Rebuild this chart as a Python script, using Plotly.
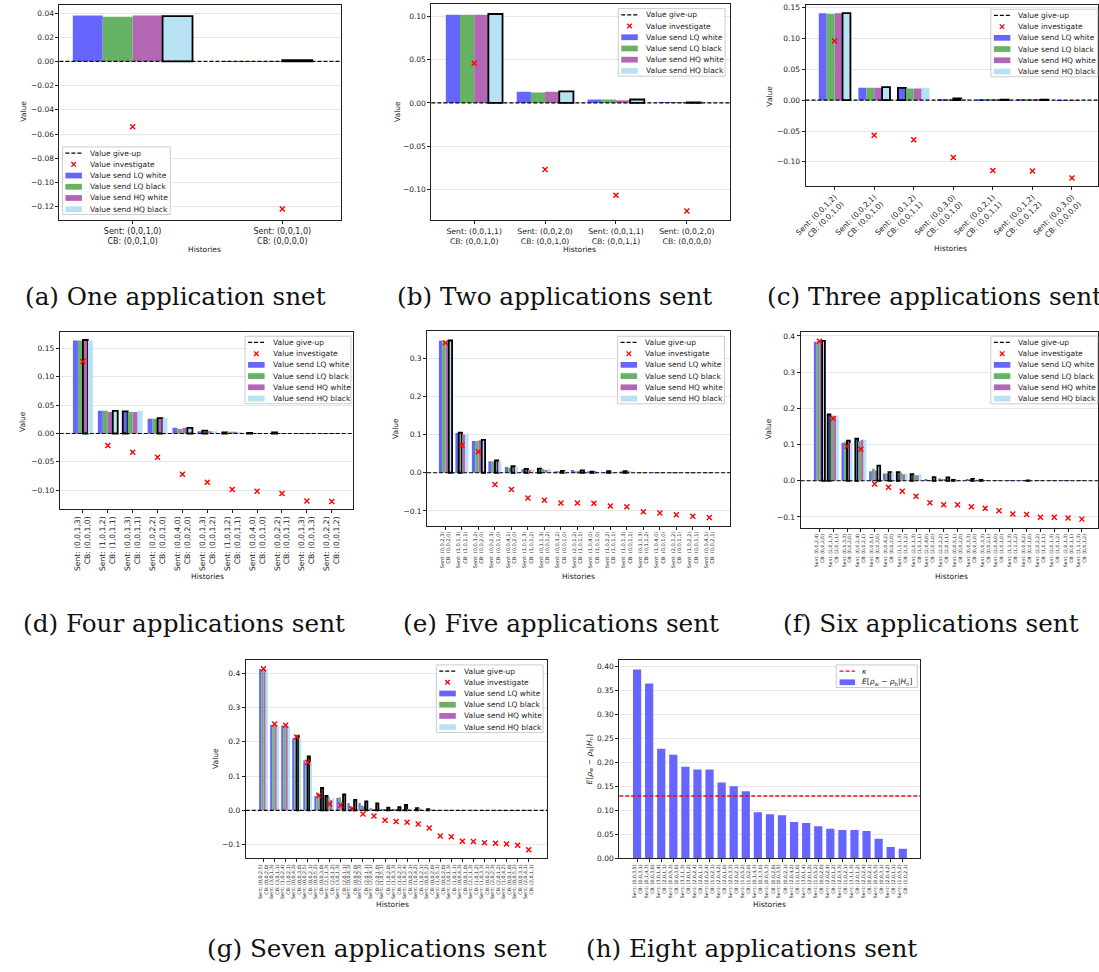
import plotly.graph_objects as go

W, H = 1099, 972

# ---------------- data ----------------
GIVE_UP = 0.0
KAPPA = 0.13

# (a) one application
a_sent = ["(0,0,1,0)", "(0,0,1,0)"]
a_cb = ["(0,0,1,0)", "(0,0,0,0)"]
a_lq_white = [0.0380, 0.0003]
a_lq_black = [0.0370, 0.0003]
a_hq_white = [0.0380, 0.0010]
a_hq_black = [0.0375, 0.0002]
a_investigate = [-0.054, -0.122]
a_best = [3, 2]

# (b) two applications
b_sent = ["(0,0,1,1)", "(0,0,2,0)", "(0,0,1,1)", "(0,0,2,0)"]
b_cb = ["(0,0,1,0)", "(0,0,1,0)", "(0,0,1,1)", "(0,0,0,0)"]
b_lq_white = [0.102, 0.013, 0.004, 0.0003]
b_lq_black = [0.102, 0.012, 0.004, 0.0003]
b_hq_white = [0.102, 0.013, 0.003, 0.0006]
b_hq_black = [0.103, 0.0135, 0.004, 0.0003]
b_investigate = [0.046, -0.077, -0.107, -0.125]
b_best = [3, 3, 3, 2]

# (c) three applications
c_sent = ["(0,0,1,2)", "(0,0,2,1)", "(0,0,1,2)", "(0,0,3,0)", "(0,0,2,1)", "(0,0,1,2)", "(0,0,3,0)"]
c_cb = ["(0,0,1,0)", "(0,0,1,0)", "(0,0,1,1)", "(0,0,1,0)", "(0,0,1,1)", "(0,0,1,2)", "(0,0,0,0)"]
c_lq_white = [0.141, 0.020, 0.020, 0.002, 0.0005, 0.0005, 0.0003]
c_lq_black = [0.140, 0.020, 0.019, 0.002, 0.0005, 0.0005, 0.0003]
c_hq_white = [0.141, 0.020, 0.019, 0.003, 0.0005, 0.0005, 0.0003]
c_hq_black = [0.141, 0.021, 0.020, 0.002, 0.0010, 0.0010, 0.0003]
c_investigate = [0.096, -0.057, -0.064, -0.093, -0.114, -0.115, -0.126]
c_best = [3, 3, 0, 2, 3, 3, -1]

# (d) four applications
d_sent = ["(0,0,1,3)", "(1,0,1,2)", "(0,0,1,3)", "(0,0,2,2)", "(0,0,4,0)", "(0,0,1,3)",
          "(1,0,1,2)", "(0,0,4,0)", "(0,0,2,2)", "(0,0,1,3)", "(0,0,2,2)"]
d_cb = ["(0,0,1,0)", "(1,0,1,1)", "(0,0,1,1)", "(0,0,1,0)", "(0,0,2,0)", "(0,0,1,2)",
        "(0,0,1,1)", "(0,0,1,0)", "(0,0,1,1)", "(0,0,1,3)", "(0,0,1,2)"]
d_lq_white = [0.164, 0.040, 0.039, 0.026, 0.010, 0.004, 0.002, 0.001, 0.002, 0.0003, 0.0003]
d_lq_black = [0.164, 0.040, 0.038, 0.026, 0.008, 0.005, 0.003, 0.0005, 0.0005, 0.0003, 0.0003]
d_hq_white = [0.165, 0.038, 0.038, 0.027, 0.010, 0.004, 0.003, 0.0005, 0.0005, 0.0003, 0.0003]
d_hq_black = [0.164, 0.040, 0.040, 0.027, 0.010, 0.004, 0.002, 0.0005, 0.0005, 0.0003, 0.0003]
d_investigate = [0.127, -0.021, -0.033, -0.042, -0.072, -0.086, -0.099, -0.102, -0.106, -0.119, -0.120]
d_best = [2, 3, 0, 2, 3, 1, 0, 0, 0, -1, -1]

# (e) five applications
e_sent = ["(0,0,2,3)", "(1,0,1,3)", "(0,0,3,2)", "(0,0,2,3)", "(0,0,4,1)", "(1,0,1,3)",
          "(0,1,1,3)", "(0,0,3,2)", "(2,0,1,2)", "(1,0,4,0)", "(1,0,2,2)", "(1,0,1,3)",
          "(0,1,1,3)", "(1,0,4,0)", "(2,0,1,2)", "(1,0,2,2)", "(0,0,4,1)"]
e_cb = ["(0,0,2,0)", "(1,0,1,1)", "(0,0,2,0)", "(0,0,1,0)", "(0,0,2,0)", "(1,0,1,2)",
        "(0,0,1,2)", "(0,0,1,0)", "(1,0,1,1)", "(1,0,1,0)", "(1,0,1,1)", "(0,0,1,1)",
        "(0,1,1,2)", "(0,0,1,0)", "(0,0,1,1)", "(0,0,1,1)", "(0,0,2,1)"]
e_lq_white = [0.345, 0.104, 0.083, 0.030, 0.015, 0.009, 0.011, 0.004, 0.007, 0.002, 0.001, 0.002,
              0.001, 0.0005, 0.0005, 0.0005, 0.0005]
e_lq_black = [0.345, 0.105, 0.083, 0.030, 0.013, 0.010, 0.010, 0.004, 0.003, 0.003, 0.004, 0.004,
              0.001, 0.0005, 0.0005, 0.0005, 0.0005]
e_hq_white = [0.343, 0.100, 0.085, 0.032, 0.017, 0.007, 0.007, 0.005, 0.005, 0.002, 0.001, 0.003,
              0.001, 0.0005, 0.0005, 0.0005, 0.0005]
e_hq_black = [0.346, 0.103, 0.086, 0.030, 0.016, 0.009, 0.009, 0.004, 0.006, 0.001, 0.001, 0.004,
              0.001, 0.0005, 0.0005, 0.0005, 0.0005]
e_investigate = [0.340, 0.072, 0.055, -0.031, -0.044, -0.066, -0.072, -0.079, -0.079, -0.080,
                 -0.087, -0.089, -0.102, -0.105, -0.110, -0.114, -0.117]
e_best = [3, 1, 3, 2, 2, 1, 0, 2, 3, 1, 1, 1, -1, -1, -1, -1, -1]

# (f) six applications
f_sent = ["(0,0,2,4)", "(2,0,1,3)", "(0,0,3,3)", "(0,0,2,4)", "(0,0,5,1)", "(0,0,4,2)",
          "(1,1,1,3)", "(2,0,1,3)", "(2,0,4,0)", "(2,0,2,2)", "(0,0,5,1)", "(0,0,3,3)",
          "(0,0,3,3)", "(2,0,4,0)", "(1,1,1,3)", "(0,0,4,2)", "(2,0,2,2)", "(2,0,1,3)",
          "(2,0,1,3)", "(1,1,1,3)"]
f_cb = ["(0,0,2,0)", "(2,0,1,1)", "(0,0,2,0)", "(0,0,2,1)", "(0,0,3,0)", "(0,0,2,0)",
        "(1,0,1,2)", "(1,0,1,1)", "(2,0,1,0)", "(2,0,1,1)", "(0,0,2,0)", "(0,0,1,0)",
        "(0,0,2,1)", "(1,0,1,0)", "(1,1,1,2)", "(0,0,1,0)", "(1,0,1,1)", "(1,0,1,2)",
        "(0,0,1,1)", "(0,0,1,2)"]
f_lq_white = [0.384, 0.183, 0.105, 0.116, 0.026, 0.020, 0.024, 0.018, 0.003, 0.006, 0.002, 0.003,
              0.002, 0.0005, 0.0005, 0.0005, 0.0005, 0.0005, 0.0005, 0.0005]
f_lq_black = [0.385, 0.180, 0.108, 0.110, 0.033, 0.020, 0.023, 0.016, 0.001, 0.003, 0.001, 0.003,
              0.001, 0.0005, 0.0005, 0.0005, 0.0005, 0.0005, 0.0005, 0.0005]
f_hq_white = [0.385, 0.178, 0.111, 0.113, 0.028, 0.024, 0.018, 0.015, 0.001, 0.003, 0.001, 0.005,
              0.001, 0.0005, 0.0005, 0.001, 0.0005, 0.0005, 0.0005, 0.0005]
f_hq_black = [0.386, 0.180, 0.104, 0.113, 0.042, 0.023, 0.020, 0.017, 0.010, 0.009, 0.001, 0.004,
              0.001, 0.0005, 0.0005, 0.0005, 0.0005, 0.0005, 0.0005, 0.0005]
f_investigate = [0.385, 0.172, 0.095, 0.087, -0.009, -0.018, -0.029, -0.043, -0.061, -0.066,
                 -0.066, -0.072, -0.076, -0.083, -0.092, -0.093, -0.101, -0.101, -0.103, -0.106]
f_best = [3, 0, 2, 0, 3, 2, 0, 0, 3, 3, 0, 2, 0, -1, -1, 2, -1, -1, -1, -1]

# (g) seven applications
g_sent = ["(0,0,2,5)", "(3,0,1,3)", "(1,0,2,4)", "(0,0,4,3)", "(0,0,2,5)", "(0,0,5,2)",
          "(2,1,1,3)", "(3,0,1,3)", "(0,0,4,3)", "(2,0,2,3)", "(2,0,4,1)", "(1,0,5,1)",
          "(1,0,3,3)", "(1,0,2,4)", "(1,0,4,2)", "(0,0,5,2)", "(1,0,5,1)", "(3,0,1,3)",
          "(0,0,4,3)", "(2,1,1,3)", "(1,0,3,3)", "(2,0,2,3)", "(1,0,4,2)", "(0,0,5,2)",
          "(2,0,4,1)"]
g_cb = ["(0,0,2,0)", "(3,0,1,1)", "(1,0,2,1)", "(0,0,3,0)", "(0,0,2,1)", "(0,0,3,0)",
        "(2,0,1,2)", "(2,0,1,1)", "(0,0,2,0)", "(2,0,1,1)", "(2,0,1,0)", "(1,0,2,0)",
        "(1,0,2,1)", "(0,0,2,1)", "(1,0,2,1)", "(0,0,2,0)", "(0,0,2,0)", "(1,0,1,1)",
        "(0,0,1,0)", "(1,0,1,2)", "(0,0,2,1)", "(2,0,1,2)", "(0,0,1,0)", "(0,0,3,1)",
        "(2,0,1,1)"]
g_lq_white = [0.412, 0.249, 0.247, 0.210, 0.145, 0.041, 0.042, 0.036, 0.021, 0.021, 0.006, 0.003,
              0.002, 0.003, 0.003, 0.001, 0.0005, 0.0005, 0.0005, 0.0005, 0.0005, 0.0005, 0.0005,
              0.0005, 0.0005]
g_lq_black = [0.412, 0.249, 0.247, 0.214, 0.138, 0.052, 0.038, 0.038, 0.013, 0.014, 0.003, 0.002,
              0.002, 0.016, 0.006, 0.003, 0.0005, 0.0005, 0.0005, 0.0005, 0.0005, 0.0005, 0.0005,
              0.0005, 0.0005]
g_hq_white = [0.412, 0.250, 0.247, 0.216, 0.157, 0.045, 0.030, 0.025, 0.010, 0.012, 0.002, 0.002,
              0.003, 0.004, 0.006, 0.002, 0.0005, 0.0005, 0.0005, 0.0005, 0.0005, 0.0005, 0.0005,
              0.0005, 0.0005]
g_hq_black = [0.412, 0.249, 0.247, 0.212, 0.140, 0.065, 0.035, 0.046, 0.030, 0.026, 0.020, 0.008,
              0.009, 0.006, 0.002, 0.001, 0.0005, 0.0005, 0.0005, 0.0005, 0.0005, 0.0005, 0.0005,
              0.0005, 0.0005]
g_investigate = [0.413, 0.252, 0.248, 0.214, 0.140, 0.043, 0.018, 0.015, 0.004, -0.011, -0.017,
                 -0.029, -0.033, -0.035, -0.040, -0.052, -0.075, -0.077, -0.090, -0.091, -0.095,
                 -0.096, -0.098, -0.102, -0.115]
g_best = [-1, -1, -1, 2, 2, 3, 0, 3, 3, 3, 3, 3, 3, 1, 1, 1, -1, -1, -1, -1, -1, -1, -1, -1, -1]

# (h) eight applications
h_sent = ["(0,0,3,5)", "(0,1,4,3)", "(3,0,1,4)", "(0,0,5,3)", "(3,1,1,3)", "(2,0,2,4)",
          "(2,0,2,4)", "(2,0,4,2)", "(2,0,3,3)", "(1,0,5,2)", "(0,1,4,3)", "(0,0,5,3)",
          "(0,0,3,5)", "(2,0,4,2)", "(3,0,1,4)", "(1,0,5,2)", "(2,0,2,4)", "(2,0,3,3)",
          "(3,1,1,3)", "(2,0,2,4)", "(0,0,5,3)", "(2,0,4,2)", "(1,0,5,2)"]
h_cb = ["(0,0,3,1)", "(0,0,3,0)", "(2,0,1,1)", "(0,0,3,0)", "(3,0,1,2)", "(2,0,1,1)",
        "(1,0,2,1)", "(2,0,1,0)", "(2,0,2,1)", "(1,0,2,0)", "(0,1,3,0)", "(0,0,2,0)",
        "(0,0,2,1)", "(1,0,1,0)", "(2,0,1,2)", "(0,0,2,0)", "(2,0,1,2)", "(1,0,2,1)",
        "(2,0,1,2)", "(0,0,2,1)", "(0,0,3,1)", "(2,0,1,1)", "(1,0,2,1)"]
h_expected_diff = [0.393, 0.364, 0.228, 0.216, 0.191, 0.185, 0.185, 0.158, 0.150, 0.140, 0.096,
                   0.092, 0.090, 0.076, 0.074, 0.067, 0.062, 0.059, 0.059, 0.057, 0.041, 0.024,
                   0.020]

SERIES_NAMES = ["Value send LQ white", "Value send LQ black", "Value send HQ white", "Value send HQ black"]
SERIES_COLORS = ["#6666ff", "#66b366", "#b366b3", "#b7e2f3"]

# ---------------- layout helpers ----------------
def px(x):
    return x / W


def py(y):
    return 1 - y / H


fig = go.Figure()
shapes = []
annotations = []


def labels_of(sent, cb):
    return [f"Sent: {s}<br>CB: {c}" for s, c in zip(sent, cb)]


def fmt(v, d):
    s = f"{abs(v):.{d}f}"
    return ("\u2212" + s) if v < -1e-12 else s


def add_legend(left, top, width, entries, text_dx=25.7, sym=(3.0, 19.7)):
    step = 11.3
    n = len(entries)
    height = 6.2 + step * (n - 1) + 5.3
    shapes.append(dict(type="rect", xref="paper", yref="paper", layer="above",
                       x0=px(left), x1=px(left + width), y0=py(top + height), y1=py(top),
                       line=dict(color="#cccccc", width=1), fillcolor="rgba(255,255,255,0.85)"))
    for i, (kind, color, label) in enumerate(entries):
        yc = top + 6.2 + step * i
        s0, s1 = left + sym[0], left + sym[1]
        if kind == "line":
            shapes.append(dict(type="line", xref="paper", yref="paper", layer="above",
                               x0=px(s0), x1=px(s1), y0=py(yc), y1=py(yc),
                               line=dict(color=color, width=1.3, dash="4px,2px")))
        elif kind == "x":
            cx = (s0 + s1) / 2
            for sgn in (1, -1):
                shapes.append(dict(type="line", xref="paper", yref="paper", layer="above",
                                   x0=px(cx - 2.3), x1=px(cx + 2.3), y0=py(yc - 2.3 * sgn),
                                   y1=py(yc + 2.3 * sgn), line=dict(color=color, width=1.3)))
        else:
            shapes.append(dict(type="rect", xref="paper", yref="paper", layer="above",
                               x0=px(s0), x1=px(s1), y0=py(yc + 2.9), y1=py(yc - 2.9),
                               line=dict(width=0), fillcolor=color))
        annotations.append(dict(xref="paper", yref="paper", x=px(left + text_dx), y=py(yc),
                                xanchor="left", yanchor="middle", showarrow=False, text=label,
                                font=dict(size=7.5, color="#222222", family="DejaVu Sans")))


def text_at(x, y, text, size=7.5, angle=0, family="DejaVu Sans", xanchor="center", color="#222222"):
    annotations.append(dict(xref="paper", yref="paper", x=px(x), y=py(y), text=text,
                            showarrow=False, textangle=angle, xanchor=xanchor, yanchor="middle",
                            font=dict(size=size, family=family, color=color)))


STD_LEGEND = [("line", "black", "Value give-up"), ("x", "red", "Value investigate")] + \
             [("rect", c, n) for c, n in zip(SERIES_COLORS, SERIES_NAMES)]

panels = [
    dict(sent=a_sent, cb=a_cb, vals=[a_lq_white, a_lq_black, a_hq_white, a_hq_black],
         inv=a_investigate, best=a_best,
         box=(49, 3, 334, 220), cat0=123.0, step=151.3, yr=(-0.1314, 0.0467),
         yticks=[-0.12, -0.10, -0.08, -0.06, -0.04, -0.02, 0.0, 0.02, 0.04], yd=2,
         angle=0, tsize=8, legend=(52, 146, 109), vpos=(12.7, 110), hpos=(196, 249),
         caption="(a) One application snet", cap=(166, 297), cap_anchor="center"),
    dict(sent=b_sent, cb=b_cb, vals=[b_lq_white, b_lq_black, b_hq_white, b_hq_black],
         inv=b_investigate, best=b_best,
         box=(425, 2, 727, 220), cat0=468.3, step=71.67, yr=(-0.136, 0.1146),
         yticks=[-0.10, -0.05, 0.0, 0.05, 0.10], yd=2,
         angle=0, tsize=7.7, legend=(614, 6.7, 108), vpos=(390, 110), hpos=(575, 249),
         caption="(b) Two applications sent", cap=(549, 297), cap_anchor="center"),
    dict(sent=c_sent, cb=c_cb, vals=[c_lq_white, c_lq_black, c_hq_white, c_hq_black],
         inv=c_investigate, best=c_best,
         box=(803.3, 3, 1099, 185), cat0=832.7, step=40.0, yr=(-0.1386, 0.1543),
         yticks=[-0.10, -0.05, 0.0, 0.05, 0.10, 0.15], yd=2,
         angle=-45, tsize=7.5, legend=(990.7, 7.3, 108), vpos=(766.7, 95), hpos=(950, 248),
         caption="(c) Three applications sent", cap=(762, 297), cap_anchor="left"),
    dict(sent=d_sent, cb=d_cb, vals=[d_lq_white, d_lq_black, d_hq_white, d_hq_black],
         inv=d_investigate, best=d_best,
         box=(49.3, 332.3, 346, 511), cat0=72.7, step=25.16, yr=(-0.1338, 0.1793),
         yticks=[-0.10, -0.05, 0.0, 0.05, 0.10, 0.15], yd=2,
         angle=-90, tsize=7.6, legend=(236.7, 336.7, 107), vpos=(12.3, 423), hpos=(198.7, 579),
         caption="(d) Four applications sent", cap=(175, 626), cap_anchor="center"),
    dict(sent=e_sent, cb=e_cb, vals=[e_lq_white, e_lq_black, e_hq_white, e_hq_black],
         inv=e_investigate, best=e_best,
         box=(420.7, 331.7, 727, 527.3), cat0=439.3, step=16.67, yr=(-0.138, 0.370),
         yticks=[-0.1, 0.0, 0.1, 0.2, 0.3], yd=1,
         angle=-90, tsize=5.1, legend=(613.3, 336.7, 108), vpos=(389.3, 430), hpos=(573.3, 579),
         caption="(e) Five applications sent", cap=(556, 626), cap_anchor="center"),
    dict(sent=f_sent, cb=f_cb, vals=[f_lq_white, f_lq_black, f_hq_white, f_hq_black],
         inv=f_investigate, best=f_best,
         box=(798.3, 332.3, 1099, 530), cat0=817.3, step=13.97, yr=(-0.131, 0.411),
         yticks=[-0.1, 0.0, 0.1, 0.2, 0.3, 0.4], yd=1,
         angle=-90, tsize=4.6, legend=(990.7, 336.7, 108), vpos=(766.7, 430), hpos=(950.7, 579),
         caption="(f) Six applications sent", cap=(930, 626), cap_anchor="center"),
    dict(sent=g_sent, cb=g_cb, vals=[g_lq_white, g_lq_black, g_hq_white, g_hq_black],
         inv=g_investigate, best=g_best,
         box=(237.3, 662.7, 542.3, 862.7), cat0=255.3, step=11.17, yr=(-0.1406, 0.4386),
         yticks=[-0.1, 0.0, 0.1, 0.2, 0.3, 0.4], yd=1,
         angle=-90, tsize=4.8, legend=(430, 667.7, 108), vpos=(206, 761.7), hpos=(385.7, 909.5),
         caption="(g) Seven applications sent", cap=(370, 953), cap_anchor="center"),
    dict(sent=h_sent, cb=h_cb, vals=None, inv=None, best=None,
         box=(615, 662.7, 919.3, 862.7), cat0=633.0, step=12.21, yr=(0.0, 0.413),
         yticks=[0.0, 0.05, 0.10, 0.15, 0.20, 0.25, 0.30, 0.35, 0.40], yd=2,
         angle=-90, tsize=4.7, legend=(834.3, 667.7, 82), vpos=(585, 763.3), hpos=(766.7, 909.5),
         caption="(h) Eight applications sent", cap=(749, 953), cap_anchor="center"),
]

axis_common = dict(showline=True, mirror=True, linecolor="#222222", linewidth=1,
                   ticks="outside", ticklen=3, tickcolor="#222222", zeroline=False)

for i, p in enumerate(panels):
    k = i + 1
    suffix = "" if k == 1 else str(k)
    xa, ya = "x" + suffix, "y" + suffix
    x0, y0, x1, y1 = p["box"]
    xr = ((x0 - p["cat0"]) / p["step"], (x1 - p["cat0"]) / p["step"])
    n = len(p["sent"])
    cats = list(range(n))
    labels = labels_of(p["sent"], p["cb"])

    if p["vals"] is not None:
        for s, (vals, col) in enumerate(zip(p["vals"], SERIES_COLORS)):
            fig.add_trace(go.Bar(
                x=cats, y=vals, width=0.2, offset=-0.4 + 0.2 * s, name=SERIES_NAMES[s],
                marker=dict(color=col, line=dict(color="black",
                                                 width=[1.8 if b == s else 0 for b in p["best"]])),
                xaxis=xa, yaxis=ya, showlegend=False))
        fig.add_trace(go.Scatter(
            x=cats, y=p["inv"], mode="markers", name="Value investigate",
            marker=dict(symbol="x-thin", size=5, color="red", line=dict(color="red", width=1.4)),
            xaxis=xa, yaxis=ya, showlegend=False))
        shapes.append(dict(type="line", xref=f"{xa} domain", yref=ya, x0=0, x1=1,
                           y0=GIVE_UP, y1=GIVE_UP, layer="above",
                           line=dict(color="black", width=1.2, dash="4px,2px")))
        add_legend(p["legend"][0], p["legend"][1], p["legend"][2], STD_LEGEND)
        text_at(p["vpos"][0], p["vpos"][1], "Value", angle=-90)
    else:
        fig.add_trace(go.Bar(
            x=cats, y=h_expected_diff, width=0.68, name="E[rho_w - rho_b | H_n]",
            marker=dict(color="#6666ff", line=dict(width=0)),
            xaxis=xa, yaxis=ya, showlegend=False))
        shapes.append(dict(type="line", xref=f"{xa} domain", yref=ya, x0=0, x1=1,
                           y0=KAPPA, y1=KAPPA, layer="above",
                           line=dict(color="red", width=1.3, dash="4px,2px")))
        add_legend(p["legend"][0], p["legend"][1], p["legend"][2],
                   [("line", "red", "<i>\u03ba</i>"),
                    ("rect", "#6666ff",
                     "<i>E</i>[<i>\u03c1</i><sub>w</sub> \u2212 <i>\u03c1</i><sub>b</sub>|<i>H</i><sub>n</sub>]")],
                   text_dx=24.5, sym=(3.4, 19.0))
        text_at(p["vpos"][0], p["vpos"][1],
                "<i>E</i>[<i>\u03c1</i><sub>w</sub> \u2212 <i>\u03c1</i><sub>b</sub>|<i>H</i><sub>n</sub>]",
                angle=-90)

    text_at(p["hpos"][0], p["hpos"][1], "Histories")
    text_at(p["cap"][0], p["cap"][1], p["caption"], size=24.7, family="DejaVu Serif",
            color="#111111", xanchor=p["cap_anchor"])

    xkey = "xaxis" + suffix
    ykey = "yaxis" + suffix
    fig.update_layout({
        xkey: dict(domain=[px(x0), px(x1)], range=list(xr), anchor=ya, tickmode="array",
                   tickvals=cats, ticktext=labels, tickangle=p["angle"], showgrid=False,
                   tickfont=dict(size=p["tsize"], color="#222222", family="DejaVu Sans"),
                   **axis_common),
        ykey: dict(domain=[py(y1), py(y0)], range=list(p["yr"]), anchor=xa, tickmode="array",
                   tickvals=p["yticks"], ticktext=[fmt(v, p["yd"]) for v in p["yticks"]],
                   showgrid=True, gridcolor="#e6e6e6", gridwidth=1,
                   tickfont=dict(size=7.5, color="#222222", family="DejaVu Sans"),
                   **axis_common),
    })

fig.update_layout(width=W, height=H, margin=dict(l=0, r=0, t=0, b=0),
                  paper_bgcolor="white", plot_bgcolor="white", barmode="overlay",
                  showlegend=False, shapes=shapes, annotations=annotations,
                  font=dict(family="DejaVu Sans"))

fig.write_html("out.html")
